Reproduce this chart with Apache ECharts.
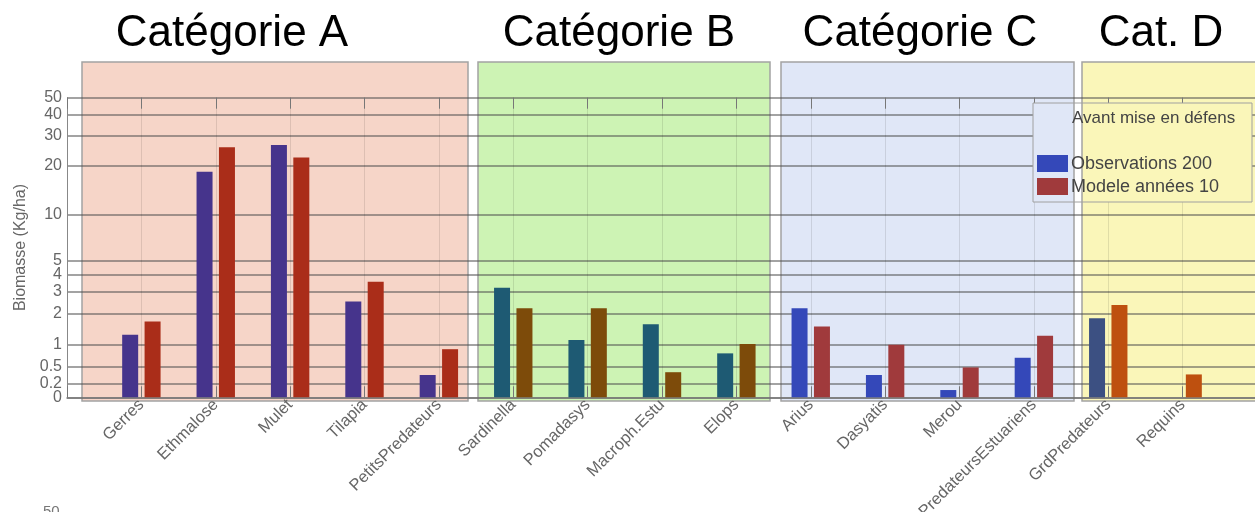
<!DOCTYPE html>
<html>
<head>
<meta charset="utf-8">
<script src="https://cdn.jsdelivr.net/npm/echarts@6.0.0/dist/echarts.min.js"></script>
<style>
  html, body { margin: 0; padding: 0; background: #fff; }
  #chart { width: 1255px; height: 512px; }
</style>
</head>
<body>
<div id="chart"></div>
<script>
// espèces (axe x)
var categories = ['Gerres', 'Ethmalose', 'Mulet', 'Tilapia', 'PetitsPredateurs',
  'Sardinella', 'Pomadasys', 'Macroph.Estu', 'Elops',
  'Arius', 'Dasyatis', 'Merou', 'PredateursEstuariens',
  'GrdPredateurs', 'Requins'];

// biomasse (Kg/ha)
var observations = [1.27, 18.3, 26.4, 2.51, 0.34, 3.21, 1.12, 1.61, 0.78, 2.22, 0.34, 0.10, 0.68, 1.82, 0];
var modele = [1.70, 25.6, 22.3, 3.56, 0.88, 2.22, 2.22, 0.39, 1.01, 1.53, 0.99, 0.48, 1.24, 2.36, 0.35];

// graduations de l'axe y
var yTicks = [0, 0.2, 0.5, 1, 2, 3, 4, 5, 10, 20, 30, 40, 50];

// groupes
var groupTitles = ['Catégorie A', 'Catégorie B', 'Catégorie C', 'Cat. D'];
var groupSizes = [5, 4, 4, 2];

var seriesNames = ['Observations 2003', 'Modele années 10-19'];

// couleurs par panneau : [fond, observations, modele]
var panelColors = [
  ['#F6D5C8', '#46348C', '#AA2D19'],
  ['#CDF3B4', '#1E5A73', '#7D4B0A'],
  ['#E0E7F7', '#3448B9', '#A03A3C'],
  ['#FAF6B9', '#3C5082', '#BE500F']
];
// position des panneaux en pixels [x, largeur], et centre des titres
var panelBoxes = [[82, 386], [478, 292], [781, 293], [1082, 190]];
var titleX = [232, 619, 920, 1161];

// échelle log(1 + x)
function tf(v) { return Math.log10(1 + v); }

function groupOf(i) {
  var n = 0;
  for (var g = 0; g < groupSizes.length; g++) {
    n += groupSizes[g];
    if (i < n) return g;
  }
  return groupSizes.length - 1;
}

function barData(values, col) {
  var out = ['-'];
  values.forEach(function (v, i) {
    out.push({ value: tf(v), itemStyle: { color: panelColors[groupOf(i)][col] } });
  });
  out.push('-');
  return out;
}

function tickLabel(v) {
  for (var i = 0; i < yTicks.length; i++) {
    if (Math.abs(tf(yTicks[i]) - v) < 1e-6) return String(yTicks[i]);
  }
  return '';
}

var axisData = [''].concat(categories, ['']);
var tickPos = yTicks.map(tf);
// 0.2 et 0 se chevauchent : 0.2 passe sur un second axe
var labelsMain = yTicks.filter(function (t) { return t !== 0.2; }).map(tf);
var labelsExtra = [tf(0.2)];
var font = 'Liberation Sans, Arial, sans-serif';

var graphics = [];

// panneaux de couleur (sous la grille)
panelBoxes.forEach(function (p, g) {
  graphics.push({
    type: 'rect', z: -1,
    shape: { x: p[0], y: 62, width: p[1], height: 339 },
    style: { fill: panelColors[g][0], stroke: '#a3a3a3', lineWidth: 1.5 }
  });
  graphics.push({
    type: 'text', z: 10,
    style: {
      x: titleX[g], y: 34, text: groupTitles[g], fill: '#000',
      font: '44px ' + font, textAlign: 'center', textVerticalAlign: 'middle'
    }
  });
});

// légende
var lx = 1033, ly = 103, lw = 219, lh = 99;
graphics.push(
  { type: 'rect', z: 5, shape: { x: lx, y: ly, width: 41, height: lh }, style: { fill: panelColors[2][0] } },
  { type: 'rect', z: 5, shape: { x: 1074, y: ly, width: 8, height: lh }, style: { fill: '#fff' } },
  { type: 'rect', z: 5, shape: { x: 1082, y: ly, width: lx + lw - 1082, height: lh }, style: { fill: panelColors[3][0] } },
  { type: 'line', z: 6, shape: { x1: 1074, y1: ly, x2: 1074, y2: ly + lh }, style: { stroke: '#a3a3a3', lineWidth: 1.5 } },
  { type: 'line', z: 6, shape: { x1: 1082, y1: ly, x2: 1082, y2: ly + lh }, style: { stroke: '#a3a3a3', lineWidth: 1.5 } },
  { type: 'rect', z: 7, shape: { x: lx, y: ly, width: lw, height: lh }, style: { fill: 'none', stroke: '#a0a0a0', lineWidth: 1 } },
  {
    type: 'text', z: 8,
    style: { x: 1072, y: 118, text: 'Avant mise en défens', fill: '#444', font: '17px ' + font, textVerticalAlign: 'middle' }
  },
  { type: 'rect', z: 8, shape: { x: 1037, y: 155, width: 31, height: 17 }, style: { fill: panelColors[2][1] } },
  { type: 'rect', z: 8, shape: { x: 1037, y: 178, width: 31, height: 17 }, style: { fill: panelColors[2][2] } },
  {
    type: 'text', z: 8,
    style: { x: 1071, y: 164, text: seriesNames[0], fill: '#444', font: '18px ' + font, textVerticalAlign: 'middle', width: 151, overflow: 'truncate', ellipsis: '' }
  },
  {
    type: 'text', z: 8,
    style: { x: 1071, y: 187, text: seriesNames[1], fill: '#444', font: '18px ' + font, textVerticalAlign: 'middle', width: 151, overflow: 'truncate', ellipsis: '' }
  },
  // début du graphique suivant, coupé en bas
  { type: 'text', z: 8, style: { x: 43, y: 504, text: '50', fill: '#777', font: '15px ' + font } }
);

var chart = echarts.init(document.getElementById('chart'));

var option = {
  animation: false,
  backgroundColor: '#fff',
  textStyle: { fontFamily: font },
  grid: { left: 67, right: -2, top: 97.7, bottom: 114.7, containLabel: false, outerBoundsMode: 'none' },
  xAxis: [{
    type: 'category',
    data: axisData,
    boundaryGap: false,
    position: 'bottom',
    axisLine: { show: true, onZero: false, lineStyle: { color: '#7a7a7a', width: 1.5 } },
    axisTick: { show: true, inside: true, length: 11, interval: 0, lineStyle: { color: '#777' } },
    axisLabel: { interval: 0, rotate: 45, margin: 5, fontSize: 16.5, color: '#666' },
    splitLine: { show: true, interval: 0, lineStyle: { color: 'rgba(0,0,0,0.1)', width: 1 } }
  }, {
    type: 'category',
    data: axisData,
    boundaryGap: false,
    position: 'top',
    axisLine: { show: false, onZero: false },
    axisTick: { show: true, inside: true, length: 11, interval: 0, lineStyle: { color: '#777' } },
    axisLabel: { show: false },
    splitLine: { show: false }
  }],
  yAxis: [{
    type: 'value',
    min: 0,
    max: tf(50),
    name: 'Biomasse (Kg/ha)',
    nameLocation: 'middle',
    nameRotate: 90,
    nameGap: 33,
    nameTextStyle: { fontSize: 16, color: '#666' },
    axisLine: { show: true, lineStyle: { color: '#888', width: 1 } },
    axisTick: { show: false, customValues: tickPos },
    axisLabel: {
      customValues: labelsMain,
      showMinLabel: true,
      showMaxLabel: true,
      margin: 5,
      fontSize: 16,
      color: '#666',
      formatter: tickLabel
    },
    splitLine: { show: true, lineStyle: { color: 'rgba(80,80,80,0.7)', width: 1.5 } }
  }, {
    type: 'value',
    min: 0,
    max: tf(50),
    position: 'left',
    offset: 0,
    axisLine: { show: false },
    axisTick: { show: false, customValues: labelsExtra },
    axisLabel: {
      customValues: labelsExtra,
      margin: 5,
      fontSize: 16,
      color: '#666',
      formatter: tickLabel
    },
    splitLine: { show: false }
  }],
  series: [{
    name: seriesNames[0],
    type: 'bar',
    barWidth: 16,
    barGap: '40%',
    z: 3,
    data: barData(observations, 1)
  }, {
    name: seriesNames[1],
    type: 'bar',
    barWidth: 16,
    barGap: '40%',
    z: 3,
    data: barData(modele, 2)
  }],
  graphic: graphics
};

chart.setOption(option);
</script>
</body>
</html>
